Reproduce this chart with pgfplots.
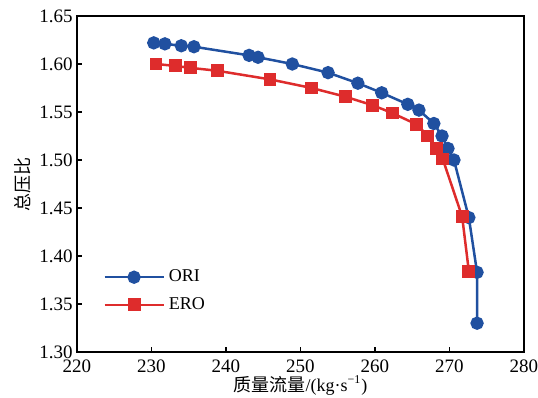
\documentclass[border=0pt]{standalone}
\usepackage{fontspec}
\setmainfont{Liberation Serif}
\newfontfamily\cjk{Noto Sans CJK SC}
\usepackage{pgfplots}
\pgfplotsset{compat=1.18}
\definecolor{oriblue}{RGB}{32,80,160}
\definecolor{erored}{RGB}{222,44,44}
\begin{document}
\fontsize{9}{11}\selectfont
\begin{tikzpicture}
\begin{axis}[
  at={(0,0)}, anchor=south west,
  width=223.5pt, height=168pt, scale only axis,
  xmin=220, xmax=280, ymin=1.30, ymax=1.65,
  xtick={220,230,...,280},
  ytick={1.30,1.35,...,1.65},
  tick label style={font=\rmfamily\fontsize{9.5}{11}\selectfont},
  yticklabel style={xshift=1pt, /pgf/number format/fixed, /pgf/number format/fixed zerofill, /pgf/number format/precision=2},
  /pgf/number format/assume math mode=true,
  tick align=inside, tick pos=left,
  major tick length=2.5pt,
  tick style={black, line width=0.6pt},
  axis line style={black, line width=0.7pt},
  xticklabel style={yshift=-0.5pt},
  xlabel={{\cjk 质量流量}/(kg·s\textsuperscript{−1})},
  ylabel={\cjk 总压比},
  xlabel style={yshift=4.5pt},
  ylabel style={yshift=-2pt},
  legend style={draw=none, fill=none, at={(0.058,0.1815)}, anchor=west, inner sep=0pt, row sep=2.5pt, font=\fontsize{9}{11}\selectfont},
  legend cell align=left,
  legend image code/.code={\draw[mark repeat=2,mark phase=2,#1] plot coordinates {(0pt,0pt) (14.75pt,0pt) (29.5pt,0pt)};},
]
\addplot[color=oriblue, line width=1.25pt, mark=*, mark size=2.7pt, mark options={solid, fill=oriblue, draw=oriblue}] coordinates {
(230.3,1.622) (231.8,1.621) (234.0,1.619) (235.7,1.618) (243.1,1.609) (244.3,1.607)
(248.9,1.600) (253.7,1.591) (257.7,1.580) (260.9,1.570) (264.4,1.558) (265.9,1.552)
(267.9,1.538) (269.0,1.525) (269.8,1.512) (270.6,1.500) (272.6,1.440) (273.7,1.383) (273.7,1.330)
};
\addlegendentry{ORI}
\addplot[color=erored, line width=1.25pt, mark=square*, mark size=2.6pt, mark options={solid, fill=erored, draw=erored}] coordinates {
(230.6,1.600) (233.2,1.598) (235.2,1.596) (238.8,1.593) (245.9,1.584) (251.5,1.575)
(256.0,1.566) (259.7,1.557) (262.3,1.549) (265.6,1.537) (267.1,1.525) (268.3,1.512)
(269.1,1.501) (271.7,1.441) (272.6,1.384)
};
\addlegendentry{ERO}
\end{axis}
\pgfresetboundingbox
\path[use as bounding box] (-38.5pt,-23pt) rectangle (230.5pt,176pt);
\end{tikzpicture}
\end{document}
